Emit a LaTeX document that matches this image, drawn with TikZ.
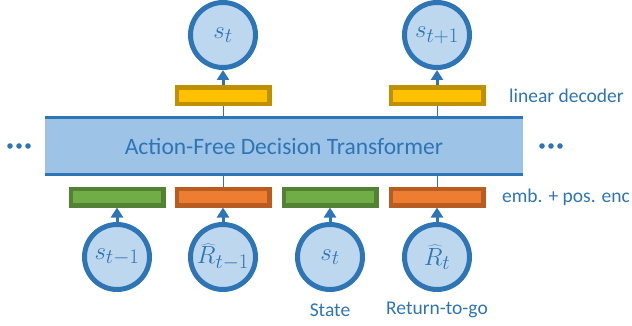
\documentclass[tikz,border=0pt]{standalone}
\usepackage{fontspec}
\setmainfont{Carlito}
\usetikzlibrary{arrows.meta}
\definecolor{LineBlue}{HTML}{2E75B6}
\definecolor{TokenFill}{HTML}{BDD7EE}
\definecolor{BlockFill}{HTML}{9DC3E6}
\definecolor{DecFill}{HTML}{FFC000}
\definecolor{DecDraw}{HTML}{BF9000}
\definecolor{StateFill}{HTML}{70AD47}
\definecolor{StateDraw}{HTML}{548235}
\definecolor{RtgFill}{HTML}{ED7D31}
\definecolor{RtgDraw}{HTML}{B85C22}
\begin{document}
\begin{tikzpicture}
[
x=1pt, y=-1pt,
Token/.style={circle, draw=LineBlue, fill=TokenFill, line width=5pt, minimum size=65pt, inner sep=0pt, text=LineBlue, font=\fontsize{28}{28}\selectfont},
Bar/.style={rectangle, line width=4.5pt, minimum width=92.5pt, minimum height=16.5pt, inner sep=0pt},
Decoder/.style={Bar, draw=DecDraw, fill=DecFill},
StateEmb/.style={Bar, draw=StateDraw, fill=StateFill},
RtgEmb/.style={Bar, draw=RtgDraw, fill=RtgFill},
Block/.style={rectangle, fill=BlockFill, minimum width=478pt, minimum height=57pt, inner sep=0pt, text=LineBlue, font=\fontsize{23.5}{24}\selectfont},
Edge/.style={draw=LineBlue, line width=3.5pt},
Feed/.style={-{Triangle[width=12pt,length=10pt]}, draw=LineBlue, line width=3pt},
Link/.style={draw=LineBlue, line width=1pt},
Label/.style={text=LineBlue, font=\fontsize{19.5}{20}\selectfont, inner sep=0pt},
]

\useasboundingbox (0,0) rectangle (632,326);

% transformer block
\node[Block] (tf) at (284,146) {Action-Free Decision Transformer};
\draw[Edge] (tf.north west) -- (tf.north east);
\draw[Edge] (tf.south west) -- (tf.south east);

% outputs
\node[Decoder] (d1) at (223,96) {};
\node[Decoder] (d2) at (437,96) {};
\node[Token] (o1) at (223,35) {$s_t$};
\node[Token] (o2) at (437,35) {$s_{t+1}$};

\draw[Link] (tf.north -| d1) -- (d1);
\draw[Link] (tf.north -| d2) -- (d2);
\draw[Feed] (d1) -- (o1);
\draw[Feed] (d2) -- (o2);

% inputs
\node[StateEmb] (e1) at (117,197) {};
\node[RtgEmb]   (e2) at (223,197) {};
\node[StateEmb] (e3) at (330,197) {};
\node[RtgEmb]   (e4) at (437,197) {};

\node[Token] (i1) at (117,257) {$s_{t-1}$};
\node[Token] (i2) at (223,257) {$\widehat{R}_{t-1}$};
\node[Token] (i3) at (330,257) {$s_t$};
\node[Token] (i4) at (437,257) {$\widehat{R}_t$};

\draw[Link] (tf.south -| e2) -- (e2);
\draw[Link] (tf.south -| e4) -- (e4);
\foreach \n in {1,...,4}
  \draw[Feed] (i\n) -- (e\n);

% labels
\node[Label] (state) at (330,310) {State};
\node[Label] (rtg) at (437,310) {Return-to-go};
\node[Label, anchor=west] (dec) at (509,96) {linear decoder};
\node[Label, anchor=west] (emb) at (502,197) {emb. + pos. enc};

% ellipsis dots
\foreach \x in {10,19,28,542,551,560}
  \fill[LineBlue] (\x,146) circle (2.8);

\end{tikzpicture}
\end{document}
